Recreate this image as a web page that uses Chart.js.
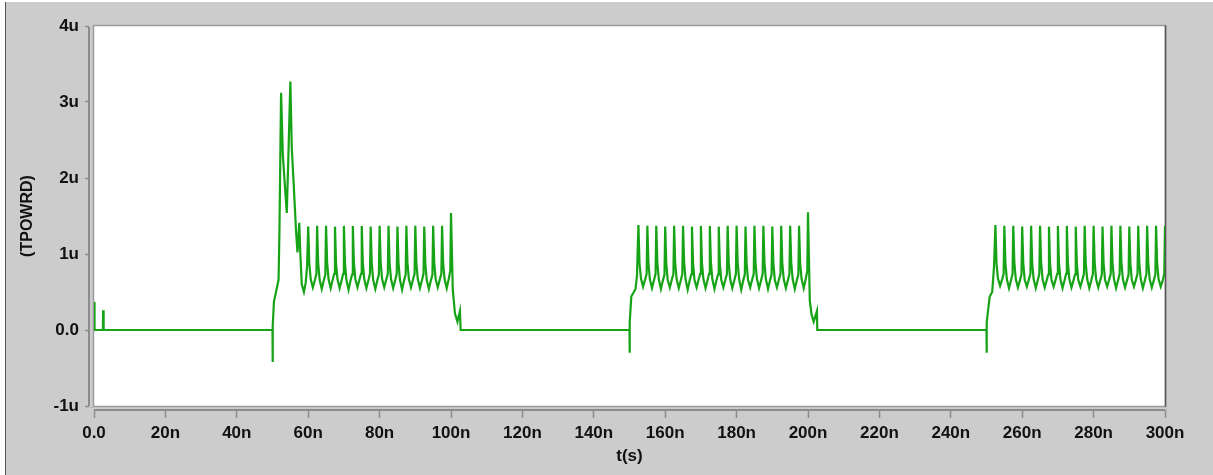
<!DOCTYPE html>
<html>
<head>
<meta charset="utf-8">
<script src="https://cdn.jsdelivr.net/npm/chart.js@4/dist/chart.umd.min.js"></script>
<style>
  body { margin: 0; background: #cccccc; }
  canvas { display: block; }
</style>
</head>
<body>
<canvas id="canvas" width="1213" height="475"></canvas>
<script>
// tick labels
var xTickLabels = ['0.0', '20n', '40n', '60n', '80n', '100n', '120n', '140n', '160n', '180n', '200n', '220n', '240n', '260n', '280n', '300n'];
var yTickLabels = ['-1u', '0.0', '1u', '2u', '3u', '4u'];

// TPOWRD trace, [t in ns, value in u]
var lead = [
  [0, 0.37], [0.15, 0], [2.5, 0], [2.55, 0.26], [2.7, 0], [50, 0], [50.02, -0.42], [50.1, 0.05],
  [50.4, 0.37], [51.7, 0.66], [51.95, 1.32], [52.4, 3.12], [52.9, 2.3], [53.4, 1.95], [54.0, 1.54],
  [54.4, 2.2], [55.0, 3.27], [55.4, 2.4], [55.9, 1.95], [56.6, 1.3], [57.0, 1.02], [57.5, 1.41],
  [57.8, 1.0], [58.2, 0.6], [58.8, 0.5], [59.3, 0.62], [59.7, 0.85]
];

var burst1 = [
  [60.0, 1.36], [60.3, 0.88], [60.7, 0.67], [61.3, 0.56], [61.9, 0.66], [62.3, 0.74],
  [62.5, 1.37], [62.8, 0.88], [63.2, 0.66], [63.8, 0.54], [64.4, 0.66], [64.8, 0.73],
  [65.0, 1.37], [65.3, 0.89], [65.7, 0.67], [66.3, 0.55], [66.9, 0.67], [67.3, 0.74],
  [67.5, 1.36], [67.8, 0.88], [68.2, 0.67], [68.8, 0.55], [69.4, 0.66], [69.8, 0.74],
  [70.0, 1.37], [70.3, 0.88], [70.7, 0.66], [71.3, 0.53], [71.9, 0.66], [72.3, 0.73],
  [72.5, 1.37], [72.8, 0.89], [73.2, 0.67], [73.8, 0.56], [74.4, 0.67], [74.8, 0.74],
  [75.0, 1.37], [75.3, 0.88], [75.7, 0.67], [76.3, 0.55], [76.9, 0.66], [77.3, 0.74],
  [77.5, 1.36], [77.8, 0.88], [78.2, 0.66], [78.8, 0.54], [79.4, 0.66], [79.8, 0.73],
  [80.0, 1.37], [80.3, 0.89], [80.7, 0.67], [81.3, 0.56], [81.9, 0.67], [82.3, 0.74],
  [82.5, 1.37], [82.8, 0.88], [83.2, 0.67], [83.8, 0.55], [84.4, 0.66], [84.8, 0.74],
  [85.0, 1.36], [85.3, 0.88], [85.7, 0.66], [86.3, 0.53], [86.9, 0.66], [87.3, 0.73],
  [87.5, 1.37], [87.8, 0.89], [88.2, 0.67], [88.8, 0.56], [89.4, 0.67], [89.8, 0.74],
  [90.0, 1.37], [90.3, 0.88], [90.7, 0.67], [91.3, 0.55], [91.9, 0.66], [92.3, 0.74],
  [92.5, 1.36], [92.8, 0.88], [93.2, 0.66], [93.8, 0.54], [94.4, 0.66], [94.8, 0.73],
  [95.0, 1.37], [95.3, 0.89], [95.7, 0.67], [96.3, 0.56], [96.9, 0.67], [97.3, 0.74],
  [97.5, 1.37], [97.8, 0.88], [98.2, 0.67], [98.8, 0.55], [99.4, 0.68], [99.8, 0.78],
  [100.0, 1.54], [100.5, 0.53], [101.1, 0.22], [101.8, 0.11], [102.5, 0.25], [102.7, 0]
];

var burst2 = [
  [150, 0], [150.02, -0.3], [150.1, 0.1], [150.5, 0.44], [151.7, 0.54], [152.1, 0.72],
  [152.5, 1.38], [152.8, 0.88], [153.2, 0.68], [153.8, 0.57], [154.4, 0.67], [154.8, 0.74],
  [155.0, 1.37], [155.3, 0.88], [155.7, 0.67], [156.3, 0.55], [156.9, 0.66], [157.3, 0.74],
  [157.5, 1.37], [157.8, 0.89], [158.2, 0.67], [158.8, 0.54], [159.4, 0.66], [159.8, 0.73],
  [160.0, 1.36], [160.3, 0.88], [160.7, 0.66], [161.3, 0.56], [161.9, 0.67], [162.3, 0.74],
  [162.5, 1.37], [162.8, 0.88], [163.2, 0.67], [163.8, 0.55], [164.4, 0.66], [164.8, 0.74],
  [165.0, 1.37], [165.3, 0.89], [165.7, 0.67], [166.3, 0.53], [166.9, 0.66], [167.3, 0.73],
  [167.5, 1.36], [167.8, 0.88], [168.2, 0.66], [168.8, 0.56], [169.4, 0.67], [169.8, 0.74],
  [170.0, 1.37], [170.3, 0.88], [170.7, 0.67], [171.3, 0.55], [171.9, 0.66], [172.3, 0.74],
  [172.5, 1.37], [172.8, 0.89], [173.2, 0.67], [173.8, 0.54], [174.4, 0.66], [174.8, 0.73],
  [175.0, 1.36], [175.3, 0.88], [175.7, 0.66], [176.3, 0.56], [176.9, 0.67], [177.3, 0.74],
  [177.5, 1.37], [177.8, 0.88], [178.2, 0.67], [178.8, 0.55], [179.4, 0.66], [179.8, 0.74],
  [180.0, 1.37], [180.3, 0.89], [180.7, 0.67], [181.3, 0.53], [181.9, 0.66], [182.3, 0.73],
  [182.5, 1.36], [182.8, 0.88], [183.2, 0.66], [183.8, 0.56], [184.4, 0.67], [184.8, 0.74],
  [185.0, 1.37], [185.3, 0.88], [185.7, 0.67], [186.3, 0.55], [186.9, 0.66], [187.3, 0.74],
  [187.5, 1.37], [187.8, 0.89], [188.2, 0.67], [188.8, 0.54], [189.4, 0.66], [189.8, 0.73],
  [190.0, 1.36], [190.3, 0.88], [190.7, 0.66], [191.3, 0.56], [191.9, 0.67], [192.3, 0.74],
  [192.5, 1.37], [192.8, 0.88], [193.2, 0.67], [193.8, 0.55], [194.4, 0.66], [194.8, 0.74],
  [195.0, 1.37], [195.3, 0.89], [195.7, 0.67], [196.3, 0.54], [196.9, 0.66], [197.3, 0.73],
  [197.5, 1.37], [197.8, 0.88], [198.2, 0.67], [198.8, 0.55], [199.4, 0.68], [199.8, 0.78],
  [200.0, 1.55], [200.5, 0.39], [201.0, 0.2], [201.6, 0.11], [202.5, 0.25], [202.6, 0]
];

var burst3 = [
  [250, 0], [250.02, -0.3], [250.1, 0.1], [250.45, 0.26], [250.9, 0.44], [251.6, 0.5], [252.1, 0.83],
  [252.5, 1.38], [252.8, 0.88], [253.2, 0.68], [253.8, 0.58], [254.4, 0.67], [254.8, 0.74],
  [255.0, 1.37], [255.3, 0.88], [255.7, 0.67], [256.3, 0.55], [256.9, 0.66], [257.3, 0.74],
  [257.5, 1.37], [257.8, 0.89], [258.2, 0.67], [258.8, 0.56], [259.4, 0.66], [259.8, 0.73],
  [260.0, 1.36], [260.3, 0.88], [260.7, 0.66], [261.3, 0.57], [261.9, 0.67], [262.3, 0.74],
  [262.5, 1.37], [262.8, 0.88], [263.2, 0.67], [263.8, 0.55], [264.4, 0.66], [264.8, 0.74],
  [265.0, 1.37], [265.3, 0.89], [265.7, 0.67], [266.3, 0.56], [266.9, 0.66], [267.3, 0.73],
  [267.5, 1.36], [267.8, 0.88], [268.2, 0.66], [268.8, 0.57], [269.4, 0.67], [269.8, 0.74],
  [270.0, 1.37], [270.3, 0.88], [270.7, 0.67], [271.3, 0.55], [271.9, 0.66], [272.3, 0.74],
  [272.5, 1.37], [272.8, 0.89], [273.2, 0.67], [273.8, 0.56], [274.4, 0.66], [274.8, 0.73],
  [275.0, 1.36], [275.3, 0.88], [275.7, 0.66], [276.3, 0.57], [276.9, 0.67], [277.3, 0.74],
  [277.5, 1.37], [277.8, 0.88], [278.2, 0.67], [278.8, 0.55], [279.4, 0.66], [279.8, 0.74],
  [280.0, 1.37], [280.3, 0.89], [280.7, 0.67], [281.3, 0.56], [281.9, 0.66], [282.3, 0.73],
  [282.5, 1.36], [282.8, 0.88], [283.2, 0.66], [283.8, 0.57], [284.4, 0.67], [284.8, 0.74],
  [285.0, 1.37], [285.3, 0.88], [285.7, 0.67], [286.3, 0.55], [286.9, 0.66], [287.3, 0.74],
  [287.5, 1.37], [287.8, 0.89], [288.2, 0.67], [288.8, 0.56], [289.4, 0.66], [289.8, 0.73],
  [290.0, 1.36], [290.3, 0.88], [290.7, 0.66], [291.3, 0.57], [291.9, 0.67], [292.3, 0.74],
  [292.5, 1.37], [292.8, 0.88], [293.2, 0.67], [293.8, 0.55], [294.4, 0.66], [294.8, 0.74],
  [295.0, 1.37], [295.3, 0.89], [295.7, 0.67], [296.3, 0.56], [296.9, 0.66], [297.3, 0.73],
  [297.5, 1.37], [297.8, 0.88], [298.2, 0.67], [298.8, 0.57], [299.4, 0.66], [299.8, 0.74],
  [300.0, 1.37]
];

var trace = lead.concat(burst1, burst2, burst3).map(function(p){
  return {x: p[0], y: p[1]};
});

var axisColor = '#8c8c8c';
var bgColor = '#cccccc';

// white plot box with frame, axes pushed out a few px like the original
var framePlugin = {
  id: 'frame',
  beforeDraw: function(chart){
    var ctx = chart.ctx, a = chart.chartArea;
    ctx.save();
    ctx.fillStyle = '#ffffff';
    ctx.fillRect(0, 0, chart.width, chart.height);
    ctx.fillStyle = bgColor;
    ctx.fillRect(6, 2, chart.width - 6, chart.height - 2);
    ctx.fillStyle = '#555555';
    ctx.fillRect(5, 2, 1, chart.height - 2);
    ctx.fillStyle = '#ffffff';
    ctx.fillRect(a.left, a.top, a.right - a.left, a.bottom - a.top);
    ctx.restore();
  },
  beforeDatasetsDraw: function(chart){
    var ctx = chart.ctx, a = chart.chartArea;
    ctx.save();
    // gap between axis lines and the box
    ctx.fillStyle = bgColor;
    ctx.fillRect(a.left - 5, a.top - 1, 5, a.bottom - a.top + 2);
    ctx.fillRect(a.left - 1, a.bottom, a.right - a.left + 2, 4);
    ctx.lineWidth = 2;
    ctx.strokeStyle = axisColor;
    ctx.beginPath();
    ctx.moveTo(a.left - 5, a.top + 1);
    ctx.lineTo(a.left - 5, a.bottom);
    ctx.moveTo(a.left, a.bottom + 4);
    ctx.lineTo(a.right, a.bottom + 4);
    ctx.stroke();
    // box frame
    ctx.lineWidth = 1.5;
    ctx.strokeStyle = '#9a9a9a';
    ctx.strokeRect(a.left - 0.5, a.top - 0.5, a.right - a.left + 1, a.bottom - a.top + 1);
    ctx.strokeStyle = '#555555';
    ctx.beginPath();
    ctx.moveTo(a.right + 0.5, a.top - 0.5);
    ctx.lineTo(a.right + 0.5, a.bottom + 0.5);
    ctx.stroke();
    ctx.restore();
  }
};

var tickFont = {family: "'Liberation Sans', Arial, sans-serif", size: 17, weight: 'bold'};

var config = {
  type: 'line',
  data: {
    datasets: [{
      label: 'TPOWRD',
      data: trace,
      borderColor: '#16a316',
      borderWidth: 2.2,
      pointRadius: 0,
      tension: 0,
      fill: false
    }]
  },
  options: {
    responsive: false,
    animation: false,
    layout: {padding: {left: 0, top: 26, right: 48, bottom: 0}},
    plugins: {legend: {display: false}, tooltip: {enabled: false}},
    scales: {
      x: {
        type: 'linear',
        min: 0,
        max: 300,
        afterFit: function(s){ s.height = 69; },
        afterBuildTicks: function(s){
          s.ticks = xTickLabels.map(function(l, i){ return {value: i * 20}; });
        },
        ticks: {
          autoSkip: false,
          maxRotation: 0,
          padding: 5,
          color: '#111111',
          font: tickFont,
          callback: function(v, i){ return xTickLabels[i]; }
        },
        grid: {drawOnChartArea: false, color: axisColor, tickLength: 12, tickWidth: 1.5},
        border: {display: false},
        title: {
          display: true,
          text: 't(s)',
          color: '#111111',
          font: {family: "'Liberation Sans', Arial, sans-serif", size: 17, weight: 'bold'},
          padding: {top: 0, bottom: 8}
        }
      },
      y: {
        type: 'linear',
        min: -1,
        max: 4,
        afterFit: function(s){ s.width = 94; },
        afterBuildTicks: function(s){
          s.ticks = yTickLabels.map(function(l, i){ return {value: i - 1}; });
        },
        ticks: {
          padding: 6,
          color: '#111111',
          font: tickFont,
          callback: function(v, i){ return yTickLabels[i]; }
        },
        grid: {drawOnChartArea: false, color: axisColor, tickLength: 9, tickWidth: 1.5},
        border: {display: false},
        title: {
          display: true,
          text: '(TPOWRD)',
          color: '#111111',
          font: {family: "'Liberation Sans', Arial, sans-serif", size: 16, weight: 'bold'},
          padding: {top: 18, bottom: 0}
        }
      }
    }
  },
  plugins: [framePlugin]
};

window.myChart = new Chart(document.getElementById('canvas'), config);
</script>
</body>
</html>
